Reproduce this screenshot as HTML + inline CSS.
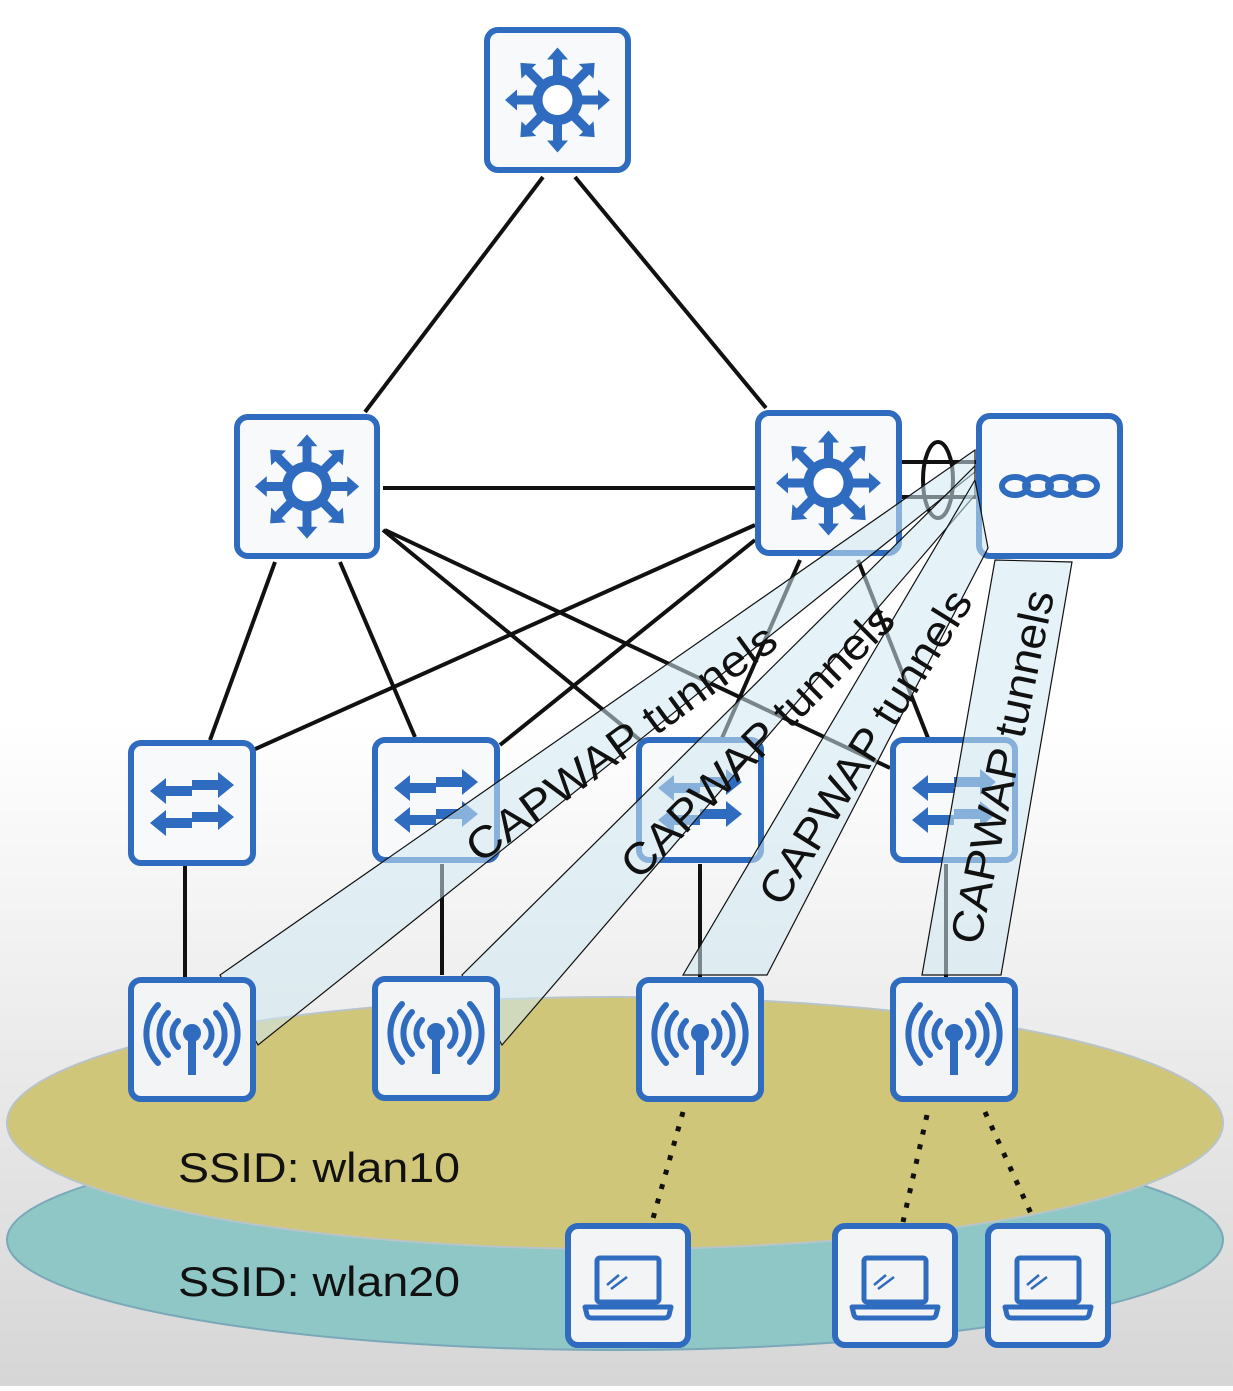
<!DOCTYPE html>
<html><head><meta charset="utf-8"><style>
html,body{margin:0;padding:0;}
body{width:1233px;height:1386px;overflow:hidden;}
</style></head><body>
<svg width="1233" height="1386" viewBox="0 0 1233 1386" xmlns="http://www.w3.org/2000/svg" font-family="Liberation Sans, sans-serif">
<defs>
<linearGradient id="bg" x1="0" y1="0" x2="0" y2="1">
<stop offset="0" stop-color="#ffffff"/><stop offset="0.52" stop-color="#ffffff"/><stop offset="1" stop-color="#d6d6d6"/>
</linearGradient>
<g id="arrow"><path d="M0,-6 L30,-6 L30,-14 L46,0 L30,14 L30,6 L0,6 Z" fill="#2f6bbf"/></g>
<symbol id="router" viewBox="0 0 147 146">
<rect x="3" y="3" width="141" height="140" rx="11" fill="#f8f9fb" stroke="#2f6bbf" stroke-width="6"/>
<g transform="translate(73.5,73)">
<circle r="25" fill="#2f6bbf"/><circle r="15" fill="#fff"/>
<use href="#arrow" transform="rotate(0) translate(18,0) scale(0.75)"/>
<use href="#arrow" transform="rotate(45) translate(18,0) scale(0.75)"/>
<use href="#arrow" transform="rotate(90) translate(18,0) scale(0.75)"/>
<use href="#arrow" transform="rotate(135) translate(18,0) scale(0.75)"/>
<use href="#arrow" transform="rotate(180) translate(18,0) scale(0.75)"/>
<use href="#arrow" transform="rotate(225) translate(18,0) scale(0.75)"/>
<use href="#arrow" transform="rotate(270) translate(18,0) scale(0.75)"/>
<use href="#arrow" transform="rotate(315) translate(18,0) scale(0.75)"/>
</g>
</symbol>
<symbol id="switch" viewBox="0 0 128 126">
<rect x="3" y="3" width="122" height="120" rx="10" fill="#f8f9fb" stroke="#2f6bbf" stroke-width="6"/>
<g fill="#2f6bbf">
<path d="M64,40 L90,40 L90,32 L106,45 L90,58 L90,50 L64,50Z"/>
<path d="M64,72 L90,72 L90,64 L106,77 L90,90 L90,82 L64,82Z"/>
<path d="M64,52 L38,52 L38,44 L22,57 L38,70 L38,62 L64,62Z" transform="translate(0,-6)"/>
<path d="M64,84 L38,84 L38,76 L22,89 L38,102 L38,94 L64,94Z" transform="translate(0,-6)"/>
</g>
</symbol>
<symbol id="ap" viewBox="0 0 128 125">
<rect x="3" y="3" width="122" height="119" rx="10" fill="#f3f4f6" stroke="#2f6bbf" stroke-width="6"/>
<g fill="none" stroke="#2f6bbf" stroke-width="6" stroke-linecap="round">
<path d="M50,44 A18,18 0 0 0 50,70"/><path d="M78,44 A18,18 0 0 1 78,70"/>
<path d="M40,36 A30,30 0 0 0 40,78"/><path d="M88,36 A30,30 0 0 1 88,78"/>
<path d="M30,28 A42,42 0 0 0 30,86"/><path d="M98,28 A42,42 0 0 1 98,86"/>
</g>
<circle cx="64" cy="56" r="9" fill="#2f6bbf"/>
<rect x="60" y="56" width="8" height="42" fill="#2f6bbf"/>
</symbol>
<symbol id="laptop" viewBox="0 0 126 125">
<rect x="3" y="3" width="120" height="119" rx="10" fill="#f3f4f6" stroke="#2f6bbf" stroke-width="6"/>
<g fill="none" stroke="#2f6bbf" stroke-width="5">
<rect x="32" y="35" width="62" height="44" rx="3"/>
<path d="M20,84 L106,84 L104,92 Q103,95 99,95 L27,95 Q23,95 22,92 Z" stroke-linejoin="round"/>
<path d="M42,62 L54,52 M46,66 L62,54" stroke-width="2.5"/>
</g>
</symbol>
<symbol id="wlc" viewBox="0 0 147 146">
<rect x="3" y="3" width="141" height="140" rx="11" fill="#f8f9fb" stroke="#2f6bbf" stroke-width="6"/>
<g fill="none" stroke="#2f6bbf" stroke-width="6">
<ellipse cx="39" cy="73" rx="13" ry="9"/><ellipse cx="62" cy="73" rx="13" ry="9"/>
<ellipse cx="85" cy="73" rx="13" ry="9"/><ellipse cx="108" cy="73" rx="13" ry="9"/>
</g>
</symbol>
</defs>
<rect width="1233" height="1386" fill="url(#bg)"/>
<ellipse cx="615" cy="1240" rx="608" ry="110" fill="#8fc6c6" stroke="#7aa8b8" stroke-width="2"/>
<ellipse cx="615" cy="1123" rx="608" ry="126" fill="#d0c67a" stroke="#b8c4c8" stroke-width="2"/>
<text x="178" y="1182" font-size="42" fill="#111" textLength="282" lengthAdjust="spacingAndGlyphs">SSID: wlan10</text>
<text x="178" y="1296" font-size="42" fill="#111" textLength="282" lengthAdjust="spacingAndGlyphs">SSID: wlan20</text>
<g stroke="#111" stroke-width="4" fill="none">
<line x1="543" y1="177" x2="365" y2="412"/>
<line x1="575" y1="177" x2="766" y2="408"/>
<line x1="383" y1="488" x2="755" y2="488"/>
<line x1="275" y1="562" x2="210" y2="740"/>
<line x1="340" y1="562" x2="415" y2="737"/>
<line x1="383" y1="530" x2="640" y2="740"/>
<line x1="385" y1="530" x2="890" y2="768"/>
<line x1="755" y1="525" x2="242" y2="755"/>
<line x1="755" y1="540" x2="500" y2="745"/>
<line x1="800" y1="560" x2="722" y2="738"/>
<line x1="858" y1="560" x2="928" y2="738"/>
<line x1="185" y1="866" x2="185" y2="977"/>
<line x1="442" y1="864" x2="442" y2="975"/>
<line x1="700" y1="864" x2="700" y2="977"/>
<line x1="946" y1="864" x2="946" y2="977"/>
<line x1="902" y1="462" x2="976" y2="462"/>
<line x1="902" y1="497" x2="976" y2="497"/>
<ellipse cx="938" cy="480" rx="15" ry="38"/>
</g>
<use href="#router" x="484" y="27" width="147" height="146"/>
<use href="#router" x="233" y="414" width="148" height="145"/>
<use href="#router" x="755" y="410" width="147" height="146"/>
<use href="#wlc" x="976" y="413" width="147" height="146"/>
<use href="#switch" x="128" y="740" width="128" height="126"/>
<use href="#switch" x="372" y="737" width="128" height="126"/>
<use href="#switch" x="636" y="737" width="128" height="126"/>
<use href="#switch" x="890" y="737" width="128" height="126"/>
<g fill="#cfe9f2" fill-opacity="0.55" stroke="#111" stroke-width="1.2">
<polygon points="975,450 975,472 258,1045 220,975"/>
<polygon points="975,466 975,495 502,1045 462,975"/>
<polygon points="975,480 988,548 767,975 683,975"/>
<polygon points="995,560 1072,562 1001,975 922,975"/>
</g>
<use href="#ap" x="128" y="977" width="128" height="125"/>
<use href="#ap" x="372" y="975" width="128" height="127"/>
<use href="#ap" x="636" y="977" width="128" height="125"/>
<use href="#ap" x="890" y="977" width="128" height="125"/>
<g font-size="44" fill="#111" text-anchor="middle">
<text transform="translate(630,755) rotate(-36)" textLength="372" lengthAdjust="spacingAndGlyphs">CAPWAP tunnels</text>
<text transform="translate(768,752) rotate(-45)" textLength="366" lengthAdjust="spacingAndGlyphs">CAPWAP tunnels</text>
<text transform="translate(878,755) rotate(-58)" textLength="362" lengthAdjust="spacingAndGlyphs">CAPWAP tunnels</text>
<text transform="translate(1017,770) rotate(-78)" textLength="360" lengthAdjust="spacingAndGlyphs">CAPWAP tunnels</text>
</g>
<g stroke="#111" stroke-width="5" stroke-dasharray="5,10">
<line x1="683" y1="1112" x2="652" y2="1222"/>
<line x1="927" y1="1115" x2="903" y2="1222"/>
<line x1="985" y1="1112" x2="1033" y2="1218"/>
</g>
<use href="#laptop" x="565" y="1223" width="126" height="125"/>
<use href="#laptop" x="832" y="1223" width="126" height="125"/>
<use href="#laptop" x="985" y="1223" width="126" height="125"/>
</svg>
</body></html>
